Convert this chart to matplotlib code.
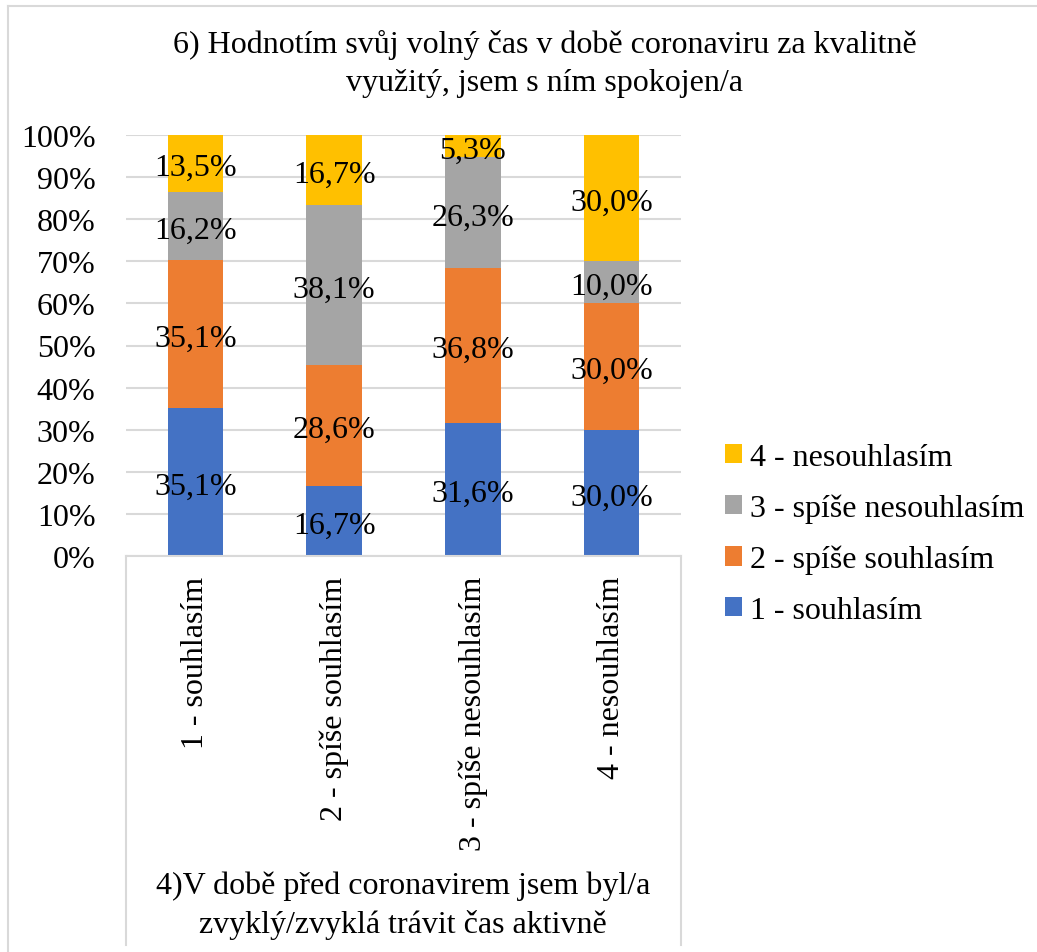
import matplotlib.pyplot as plt
import numpy as np
from matplotlib.lines import Line2D

plt.rcParams['font.family'] = ['Liberation Serif', 'DejaVu Serif']

categories = ["1 - souhlasím", "2 - spíše souhlasím", "3 - spíše nesouhlasím", "4 - nesouhlasím"]
series_names = ["1 - souhlasím", "2 - spíše souhlasím", "3 - spíše nesouhlasím", "4 - nesouhlasím"]
s1 = [35.1, 16.7, 31.6, 30.0]
s2 = [35.1, 28.6, 36.8, 30.0]
s3 = [16.2, 38.1, 26.3, 10.0]
s4 = [13.5, 16.7, 5.3, 30.0]
colors = ['#4472C4', '#ED7D31', '#A5A5A5', '#FFC000']

title = "6) Hodnotím svůj volný čas v době coronaviru za kvalitně\nvyužitý, jsem s ním spokojen/a"
xtitle = "4)V době před coronavirem jsem byl/a\nzvyklý/zvyklá trávit čas aktivně"

FS = 23
W, H = 1037, 953
fig = plt.figure(figsize=(W / 100, H / 100), dpi=100)
ax = fig.add_axes([126 / W, 1 - 557 / H, 555 / W, 421 / H])

x = np.arange(len(categories))
data = np.array([s1, s2, s3, s4])
totals = data.sum(axis=0)
pct = data / totals * 100
bottom = np.zeros(len(categories))
bars = []
for vals, shown, name, c in zip(pct, data, series_names, colors):
    b = ax.bar(x, vals, bottom=bottom, width=0.4, color=c, label=name, zorder=2)
    bars.append(b)
    for xi, v, bt, s in zip(x, vals, bottom, shown):
        ax.annotate(f"{s:.1f}%".replace('.', ','), (xi, bt + v / 2), xytext=(0, -3),
                    textcoords='offset points', ha='center', va='center',
                    fontsize=FS, color='black', zorder=3)
    bottom += vals

ax.set_xlim(-0.5, 3.5)
ax.set_ylim(0, 100)
ax.set_yticks(np.arange(0, 101, 10))
ax.set_yticklabels([f"{v}%" for v in range(0, 101, 10)])
ax.yaxis.grid(True, color='#d9d9d9', linewidth=1.5, zorder=0)
ax.set_axisbelow(True)
ax.set_xticks(x)
ax.set_xticklabels(categories, rotation=90, va='top', ha='center')
ax.tick_params(axis='both', length=0, labelsize=FS)
ax.tick_params(axis='y', pad=22)
ax.tick_params(axis='x', pad=14)
for sp in ['top', 'right', 'left']:
    ax.spines[sp].set_visible(False)
ax.spines['bottom'].set_color('#d9d9d9')
ax.spines['bottom'].set_linewidth(1.5)

# category box lines and chart border
def fl(x0, y0, x1, y1):
    fig.add_artist(Line2D([x0 / W, x1 / W], [1 - y0 / H, 1 - y1 / H], color='#d9d9d9', linewidth=1.5))

fl(126, 557, 126, 946)
fl(681, 557, 681, 946)
fl(8, 7, 1037, 7)
fl(8, 7, 8, 953)

fig.text(545 / W, 1 - 64 / H, title, ha='center', va='center', fontsize=FS, linespacing=1.4)
fig.text(403 / W, 1 - 906 / H, xtitle, ha='center', va='center', fontsize=FS, linespacing=1.4)

handles = [bars[i] for i in [3, 2, 1, 0]]
labels = [series_names[i] for i in [3, 2, 1, 0]]
fig.legend(handles, labels, loc='center left', bbox_to_anchor=(696 / W, 1 - 535 / H),
           frameon=False, fontsize=FS, handlelength=0.55, handleheight=0.55,
           handletextpad=0.25, labelspacing=0.68)

fig.savefig("out.png", dpi=100)
